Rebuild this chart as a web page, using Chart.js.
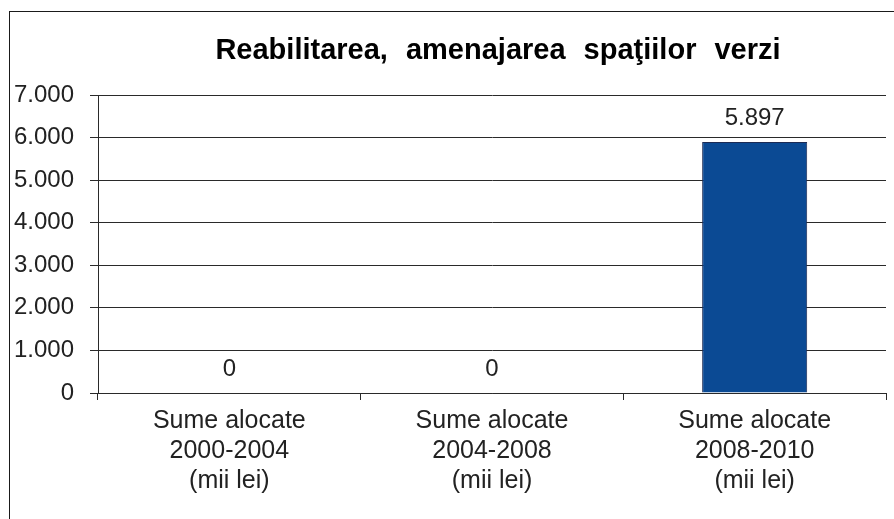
<!DOCTYPE html>
<html>
<head>
<meta charset="utf-8">
<script src="https://cdn.jsdelivr.net/npm/chart.js@4/dist/chart.umd.min.js"></script>
<style>
  html, body { margin: 0; padding: 0; background: #fff; overflow: hidden; }
  #wrap { position: relative; width: 894px; height: 519px; }
  #frame { position: absolute; left: 9px; top: 11px; width: 900px; height: 520px; border-left: 1px solid #1a1a1a; border-top: 1px solid #1a1a1a; }
  canvas { position: absolute; left: 0; top: 0; }
</style>
</head>
<body>
<div id="wrap">
  <div id="frame"></div>
  <canvas id="chart" width="894" height="519"></canvas>
</div>
<script>
  // ---- Data ----
  const chartTitle = 'Reabilitarea, amenajarea spaţiilor verzi';
  const periods = ['2000-2004', '2004-2008', '2008-2010'];
  const values = [0, 0, 5897];
  const yMax = 7000;
  const yStep = 1000;

  const categories = periods.map(p => ['Sume alocate', p, '(mii lei)']);

  // 5897 -> "5.897"
  function fmt(v) {
    return String(v).replace(/\B(?=(\d{3})+(?!\d))/g, '.');
  }

  const FONT = '"Liberation Sans", Arial, sans-serif';
  const INK = '#222';
  const LINE = '#2a2a2a';

  // ---- Title (the original sits a bit right of the canvas centre, with wide word gaps) ----
  const titleText = {
    id: 'titleText',
    afterDraw(chart) {
      const ctx = chart.ctx;
      ctx.save();
      ctx.font = 'bold 29px ' + FONT;
      if ('wordSpacing' in ctx) ctx.wordSpacing = '10px';
      ctx.fillStyle = '#000';
      ctx.textAlign = 'center';
      ctx.textBaseline = 'middle';
      ctx.fillText(chartTitle, 498, 51);
      ctx.restore();
    }
  };

  // ---- Value labels above bars ----
  const valueLabels = {
    id: 'valueLabels',
    afterDatasetsDraw(chart) {
      const ctx = chart.ctx;
      chart.getDatasetMeta(0).data.forEach((bar, i) => {
        ctx.save();
        ctx.font = '24px ' + FONT;
        ctx.fillStyle = INK;
        ctx.textAlign = 'center';
        ctx.textBaseline = 'middle';
        ctx.fillText(fmt(values[i]), bar.x, bar.y - 24);
        ctx.restore();
      });
    }
  };

  new Chart(document.getElementById('chart'), {
    type: 'bar',
    data: {
      labels: categories,
      datasets: [{
        data: values,
        backgroundColor: '#0b4a94',
        borderColor: '#1c2b55',
        borderWidth: 1,
        barPercentage: 0.4,
        categoryPercentage: 1
      }]
    },
    options: {
      responsive: false,
      animation: false,
      layout: { padding: { left: 0, right: 8, top: 95, bottom: 0 } },
      plugins: {
        legend: { display: false },
        tooltip: { enabled: false },
        title: { display: false }
      },
      scales: {
        x: {
          grid: { drawOnChartArea: false, drawTicks: true, tickLength: 7, color: LINE },
          border: { display: true, color: LINE, width: 1 },
          ticks: { color: INK, font: { family: FONT, size: 25 }, padding: 6, maxRotation: 0, autoSkip: false },
          afterFit(scale) { scale.height = 126; }
        },
        y: {
          min: 0,
          max: yMax,
          grid: { color: LINE, lineWidth: 1, tickLength: 8 },
          border: { display: true, color: LINE, width: 1 },
          ticks: { stepSize: yStep, color: INK, font: { family: FONT, size: 24 }, padding: 16, callback: v => fmt(v) },
          afterFit(scale) { scale.width = 98; }
        }
      }
    },
    plugins: [valueLabels, titleText]
  });
</script>
</body>
</html>
